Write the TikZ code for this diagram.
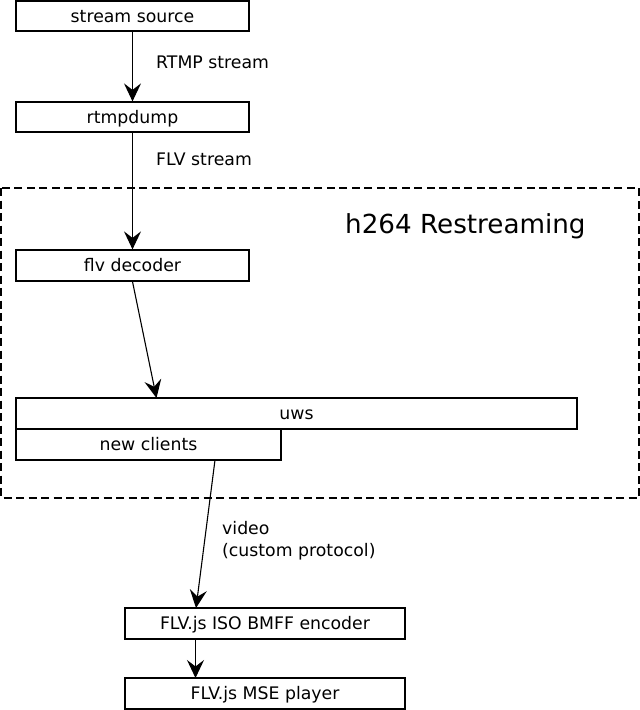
\documentclass[tikz,border=0pt]{standalone}
\usepackage{fontspec}
\setmainfont{DejaVu Sans}
\usetikzlibrary{arrows.meta}
\begin{document}
\begin{tikzpicture}[x=1pt,y=-1pt,
  box/.style={draw=black, line width=1.2pt, fill=white, rectangle, inner sep=0pt,
    text height=15pt, text depth=3pt, font=\fontsize{17.3}{20}\selectfont},
  lbl/.style={anchor=west, inner sep=0pt, align=left, font=\fontsize{17.3}{22}\selectfont},
  conn/.style={draw=black, line width=1.1pt, -{Stealth[length=18pt,width=17pt,inset=6.5pt]}},
  group/.style={draw=black, line width=1.2pt, dash pattern=on 8pt off 4.5pt}]
\useasboundingbox (0,0) rectangle (640,710);
\draw[group] (1,188) rectangle (639,498);
\node[anchor=west, inner sep=0pt, font=\fontsize{26.2}{30}\selectfont] (title) at (345,226) {h264 Restreaming};
\node[box, minimum width=233pt, minimum height=30pt] (ss) at (132.5,16) {stream source};
\node[box, minimum width=233pt, minimum height=30pt] (rd) at (132.5,117) {rtmpdump};
\node[box, minimum width=233pt, minimum height=31pt] (fd) at (132.5,265.5) {flv decoder};
\node[box, minimum width=561pt, minimum height=31pt] (uws) at (296.5,413.5) {uws};
\node[box, minimum width=265pt, minimum height=31pt] (nc) at (148.5,444.5) {new clients};
\node[box, minimum width=280pt, minimum height=31pt] (enc) at (265,623.5) {FLV.js ISO BMFF encoder};
\node[box, minimum width=280pt, minimum height=31pt] (mse) at (265,693.5) {FLV.js MSE player};
\node[lbl] (l1) at (156,62) {RTMP stream};
\node[lbl] (l2) at (156,159) {FLV stream};
\node[lbl] (l3) at (222,541) {video\\(custom protocol)};
\coordinate (uwsin) at (156.5,398);
\coordinate (ncout) at (215,460);
\coordinate (encin) at (196,608);
\coordinate (encout) at (195.5,639);
\coordinate (msein) at (195.5,678);
\draw[conn] (ss.south) -- (rd.north);
\draw[conn] (rd.south) -- (fd.north);
\draw[conn] (fd.south) -- (uwsin);
\draw[conn] (ncout) -- (encin);
\draw[conn] (encout) -- (msein);
\end{tikzpicture}
\end{document}
